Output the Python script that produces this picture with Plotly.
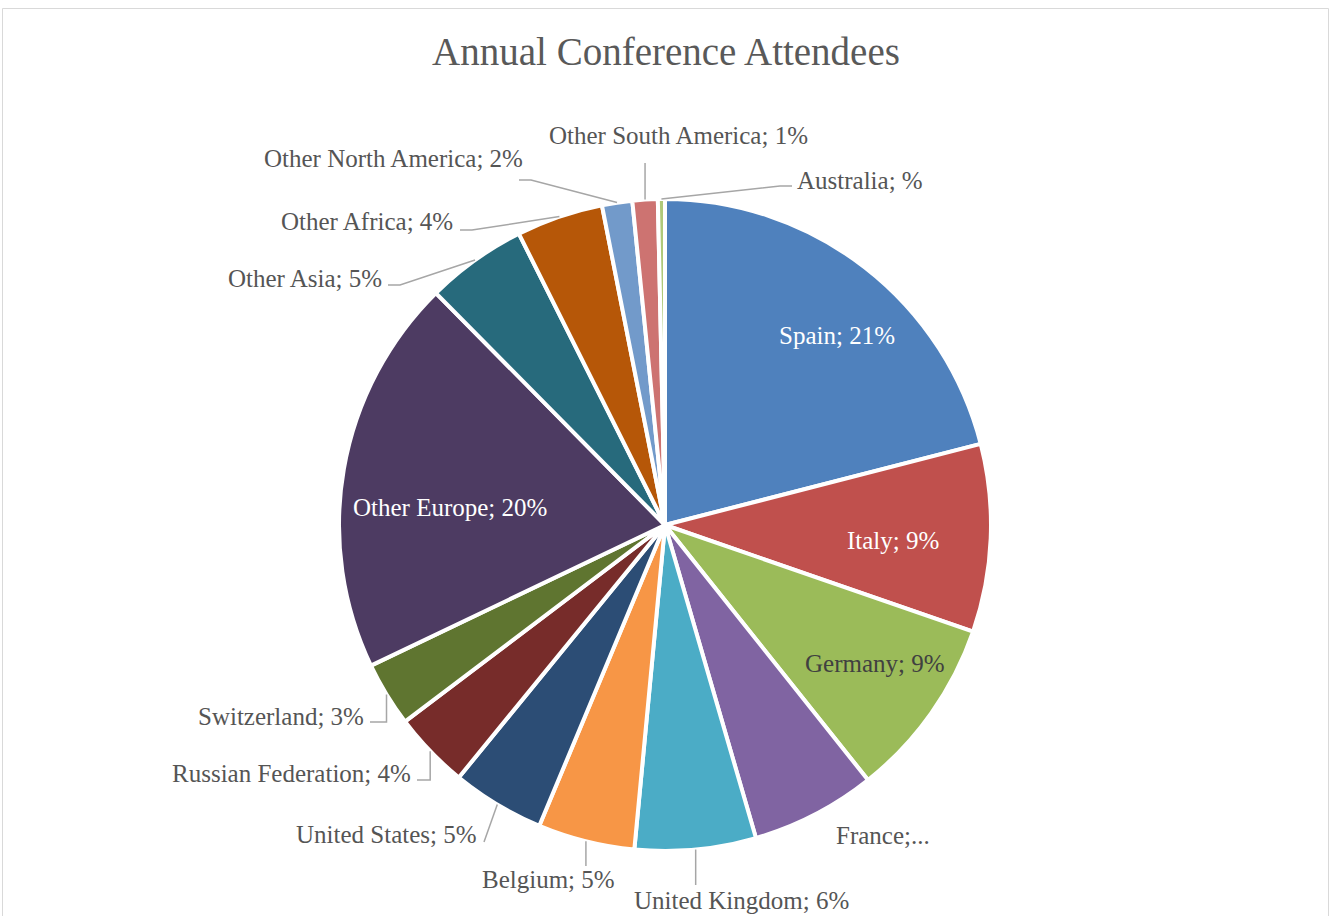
import math
import plotly.graph_objects as go

# ---------------- data ----------------
countries = ["Spain", "Italy", "Germany", "France", "United Kingdom", "Belgium",
             "United States", "Russian Federation", "Switzerland", "Other Europe",
             "Other Asia", "Other Africa", "Other North America",
             "Other South America", "Australia"]
shares = [21.0, 9.3, 9.0, 6.2, 6.0, 4.8, 4.6, 3.8, 3.2, 19.7, 5.0, 4.3, 1.5, 1.25, 0.35]
label_texts = ["Spain; 21%", "Italy; 9%", "Germany; 9%", "France;...",
               "United Kingdom; 6%", "Belgium; 5%", "United States; 5%",
               "Russian Federation; 4%", "Switzerland; 3%", "Other Europe; 20%",
               "Other Asia; 5%", "Other Africa; 4%", "Other North America; 2%",
               "Other South America; 1%", "Australia; %"]
colors = ["#4F81BD", "#C0504D", "#9BBB59", "#8064A2", "#4BACC6", "#F79646",
          "#2C4D75", "#772C2A", "#5F7530", "#4D3B62", "#276A7C", "#B65708",
          "#729ACA", "#CD7371", "#AFC97A"]
title_text = "Annual Conference Attendees"

# ---------------- layout (pixels) ----------------
W, H = 1332, 916
CX, CY, R = 665, 525, 326
FONT = "Liberation Serif"
OUT_COLOR = "#555555"

# label placement: x, y, xanchor, text colour, leader (kind, attach point)
label_layout = {
    "Spain": (837, 336, "center", "white", None),
    "Italy": (893, 540, "center", "white", None),
    "Germany": (875, 663, "center", "#404040", None),
    "Other Europe": (450, 508, "center", "white", None),
    "France": (834, 835, "left", OUT_COLOR, None),
    "United Kingdom": (741, 900, "center", OUT_COLOR, ("vs", 885)),
    "Belgium": (548, 879, "center", OUT_COLOR, ("vs", 866)),
    "United States": (479, 834, "right", OUT_COLOR, ("s", (484, 842))),
    "Russian Federation": (413, 773, "right", OUT_COLOR, ("v", (417, 780))),
    "Switzerland": (366, 716, "right", OUT_COLOR, ("v", (370, 722))),
    "Other Asia": (384, 278, "right", OUT_COLOR, ("h", (388, 285))),
    "Other Africa": (455, 222, "right", OUT_COLOR, ("h", (460, 230))),
    "Other North America": (525, 158, "right", OUT_COLOR, ("h", (519, 180))),
    "Other South America": (678, 135, "center", OUT_COLOR, ("vs", 163)),
    "Australia": (795, 180, "left", OUT_COLOR, ("h", (792, 186))),
}


def px(x):
    return x / W


def py(y):
    return 1 - y / H


fig = go.Figure(go.Pie(
    labels=countries,
    values=shares,
    sort=False,
    direction="clockwise",
    rotation=0,
    marker=dict(colors=colors, line=dict(color="white", width=4)),
    textinfo="none",
    hoverinfo="label+percent",
    showlegend=False,
    domain=dict(x=[px(CX - R), px(CX + R)], y=[py(CY + R), py(CY - R)]),
))

# mid-angles of slices computed from the data
total = sum(shares)
cum = 0.0
mids = {}
for name, v in zip(countries, shares):
    mids[name] = (cum + v / 2) / total * 2 * math.pi
    cum += v

annotations = []
shapes = []
for name, text in zip(countries, label_texts):
    x, y, xa, col, leader = label_layout[name]
    annotations.append(dict(
        x=px(x), y=py(y), xref="paper", yref="paper", text=text,
        showarrow=False, xanchor=xa, yanchor="middle",
        font=dict(family=FONT, size=25, color=col)))
    if leader is None:
        continue
    th = mids[name]
    rr = R
    ex, ey = CX + rr * math.sin(th), CY - rr * math.cos(th)
    kind, att = leader
    if kind == "vs":
        pts = [(ex, ey), (ex, att)]
    elif kind == "s":
        pts = [(ex, ey), att]
    elif kind == "v":
        pts = [(ex, ey), (ex, att[1]), att]
    else:  # "h"
        sgn = 1 if ex > att[0] else -1
        pts = [(ex, ey), (att[0] + 12 * sgn, att[1]), att]
    path = "M " + " L ".join(f"{px(a):.5f},{py(b):.5f}" for a, b in pts)
    shapes.append(dict(type="path", xref="paper", yref="paper", path=path,
                       line=dict(color="#A6A6A6", width=1.5)))

# chart-area border
shapes.append(dict(type="rect", xref="paper", yref="paper",
                   x0=px(2.5), x1=px(1328.5), y0=py(960), y1=py(8.5),
                   line=dict(color="#D9D9D9", width=1), fillcolor="rgba(0,0,0,0)"))

fig.update_layout(
    width=W, height=H,
    margin=dict(l=0, r=0, t=0, b=0),
    paper_bgcolor="white", plot_bgcolor="white",
    title=dict(text=title_text, x=0.5, xanchor="center", xref="paper",
               y=py(51), yanchor="middle", yref="paper",
               font=dict(family=FONT, size=39, color="#595959")),
    annotations=annotations,
    shapes=shapes,
)

fig.write_html("out.html", config={"displayModeBar": False},
               post_script="document.body.style.margin='0';")
